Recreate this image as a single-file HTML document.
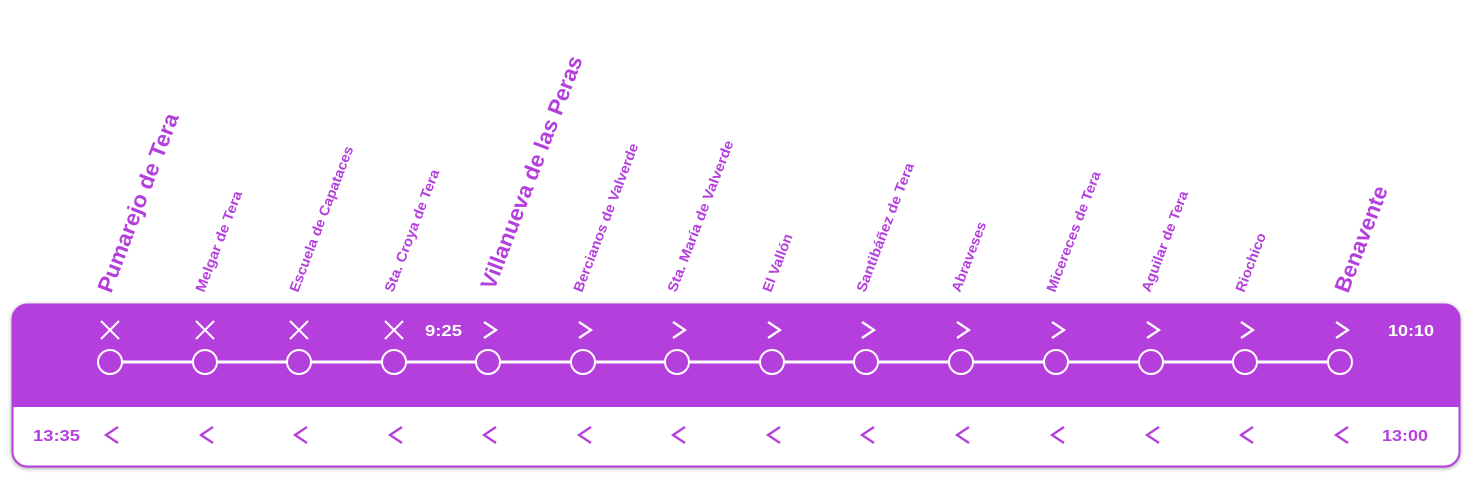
<!DOCTYPE html>
<html><head><meta charset="utf-8"><style>
html,body{margin:0;padding:0;background:#fff;width:1473px;height:483px;overflow:hidden}
svg{display:block}
text{font-family:"Liberation Sans",sans-serif;font-weight:bold}
</style></head><body>
<svg width="1473" height="483" viewBox="0 0 1473 483" xmlns="http://www.w3.org/2000/svg">
<defs>
<filter id="sh" x="-5%" y="-20%" width="110%" height="140%"><feDropShadow dx="0" dy="1" stdDeviation="2.5" flood-color="#000" flood-opacity="0.45"/></filter>
<clipPath id="cp"><rect x="12" y="304" width="1448" height="163" rx="15"/></clipPath>
</defs>
<rect x="12" y="304" width="1448" height="163" rx="15" fill="#fff" filter="url(#sh)"/>
<g clip-path="url(#cp)">
<rect x="12" y="304" width="1448" height="103" fill="#b43fdd"/>
</g>
<rect x="12.5" y="304.5" width="1447" height="162" rx="15" fill="none" stroke="#b43fdd" stroke-width="2"/>

<line x1="110" y1="362" x2="1340" y2="362" stroke="#fff" stroke-width="3"/>
<g fill="#b43fdd" stroke="#fff" stroke-width="2">
<circle cx="110" cy="362" r="12"/><circle cx="205" cy="362" r="12"/><circle cx="299" cy="362" r="12"/><circle cx="394" cy="362" r="12"/><circle cx="488" cy="362" r="12"/><circle cx="583" cy="362" r="12"/><circle cx="677" cy="362" r="12"/><circle cx="772" cy="362" r="12"/><circle cx="866" cy="362" r="12"/><circle cx="961" cy="362" r="12"/><circle cx="1056" cy="362" r="12"/><circle cx="1151" cy="362" r="12"/><circle cx="1245" cy="362" r="12"/><circle cx="1340" cy="362" r="12"/>
</g>
<g stroke="#fff" stroke-width="2" fill="none">
<path d="M101 321 L119 339 M119 321 L101 339"/>
<path d="M196 321 L214 339 M214 321 L196 339"/>
<path d="M290 321 L308 339 M308 321 L290 339"/>
<path d="M385 321 L403 339 M403 321 L385 339"/>
</g>
<g stroke="#fff" stroke-width="2.3" fill="none">
<path d="M484 322 L496 330 L484 338"/><path d="M579 322 L591 330 L579 338"/><path d="M673 322 L685 330 L673 338"/><path d="M768 322 L780 330 L768 338"/><path d="M862 322 L874 330 L862 338"/><path d="M957 322 L969 330 L957 338"/><path d="M1052 322 L1064 330 L1052 338"/><path d="M1147 322 L1159 330 L1147 338"/><path d="M1241 322 L1253 330 L1241 338"/><path d="M1336 322 L1348 330 L1336 338"/>
</g>
<g stroke="#b43fdd" stroke-width="2.3" fill="none">
<path d="M118 427 L106 435 L118 443"/><path d="M213 427 L201 435 L213 443"/><path d="M307 427 L295 435 L307 443"/><path d="M402 427 L390 435 L402 443"/><path d="M496 427 L484 435 L496 443"/><path d="M591 427 L579 435 L591 443"/><path d="M685 427 L673 435 L685 443"/><path d="M780 427 L768 435 L780 443"/><path d="M874 427 L862 435 L874 443"/><path d="M969 427 L957 435 L969 443"/><path d="M1064 427 L1052 435 L1064 443"/><path d="M1159 427 L1147 435 L1159 443"/><path d="M1253 427 L1241 435 L1253 443"/><path d="M1348 427 L1336 435 L1348 443"/>
</g>
<g font-size="16" fill="#fff">
<text x="425" y="336" textLength="37" lengthAdjust="spacingAndGlyphs">9:25</text>
<text x="1388" y="336" textLength="46" lengthAdjust="spacingAndGlyphs">10:10</text>
</g>
<g font-size="16" fill="#b43fdd">
<text x="33" y="441" textLength="47" lengthAdjust="spacingAndGlyphs">13:35</text>
<text x="1382" y="441" textLength="46" lengthAdjust="spacingAndGlyphs">13:00</text>
</g>

<g fill="#b43fdd" font-size="14">
<text transform="translate(204,293) rotate(-69)" textLength="107" lengthAdjust="spacingAndGlyphs">Melgar de Tera</text>
<text transform="translate(298,293) rotate(-69)" textLength="155" lengthAdjust="spacingAndGlyphs">Escuela de Capataces</text>
<text transform="translate(393,293) rotate(-69)" textLength="130" lengthAdjust="spacingAndGlyphs">Sta. Croya de Tera</text>
<text transform="translate(582,293) rotate(-69)" textLength="158" lengthAdjust="spacingAndGlyphs">Bercianos de Valverde</text>
<text transform="translate(676,293) rotate(-69)" textLength="161" lengthAdjust="spacingAndGlyphs">Sta. María de Valverde</text>
<text transform="translate(771,293) rotate(-69)" textLength="61" lengthAdjust="spacingAndGlyphs">El Vallón</text>
<text transform="translate(865,293) rotate(-69)" textLength="137" lengthAdjust="spacingAndGlyphs">Santibáñez de Tera</text>
<text transform="translate(960,293) rotate(-69)" textLength="74" lengthAdjust="spacingAndGlyphs">Abraveses</text>
<text transform="translate(1055,293) rotate(-69)" textLength="128" lengthAdjust="spacingAndGlyphs">Micereces de Tera</text>
<text transform="translate(1150,293) rotate(-69)" textLength="107" lengthAdjust="spacingAndGlyphs">Aguilar de Tera</text>
<text transform="translate(1244,293) rotate(-69)" textLength="62" lengthAdjust="spacingAndGlyphs">Riochico</text>
</g>
<g fill="#b43fdd" font-size="22">
<text transform="translate(111,294) rotate(-69)" textLength="190" lengthAdjust="spacingAndGlyphs">Pumarejo de Tera</text>
<text transform="translate(494,291) rotate(-69)" textLength="248" lengthAdjust="spacingAndGlyphs">Villanueva de las Peras</text>
<text transform="translate(1348,294) rotate(-69)" textLength="112" lengthAdjust="spacingAndGlyphs">Benavente</text>
</g>
</svg>
</body></html>
